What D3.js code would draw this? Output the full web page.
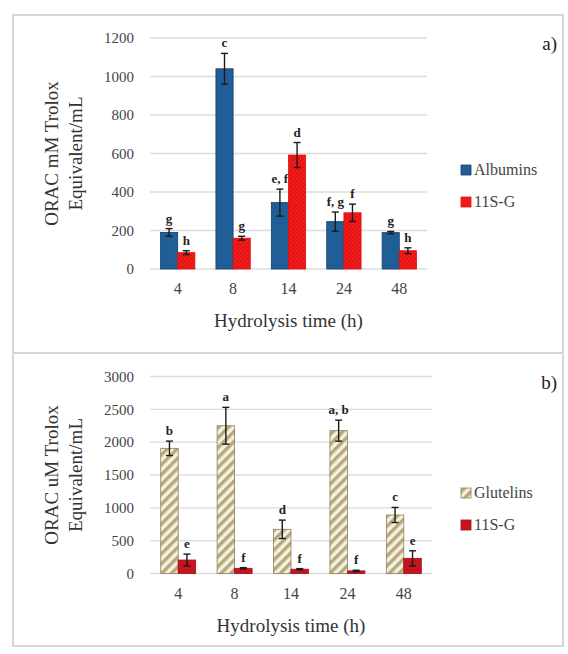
<!DOCTYPE html>
<html><head><meta charset="utf-8">
<script src="https://cdn.jsdelivr.net/npm/d3@7"></script>
<style>
html,body{margin:0;padding:0;background:#fff;}
svg, svg text{font-family:"Liberation Serif","Times New Roman",serif;}
</style></head>
<body><svg id="c" width="568" height="654"></svg>
<script>
// ---------- data ----------
const categories = ["4", "8", "14", "24", "48"];
// panel a)
const albumins = [190, 1040, 345, 246, 189];
const albuminsErr = [20, 80, 70, 50, 6];
const albuminsLetters = ["g", "c", "e, f", "f, g", "g"];
const s11gA = [85, 160, 592, 292, 95];
const s11gAErr = [10, 10, 65, 45, 15];
const s11gALetters = ["h", "g", "d", "f", "h"];
const yTicksA = [0, 200, 400, 600, 800, 1000, 1200];
// panel b)
const glutelins = [1906, 2250, 673, 2175, 891];
const glutelinsErr = [110, 280, 140, 160, 115];
const glutelinsLetters = ["b", "a", "d", "a, b", "c"];
const s11gB = [205, 79, 65, 40, 231];
const s11gBErr = [90, 10, 10, 10, 115];
const s11gBLetters = ["e", "f", "f", "f", "e"];
const yTicksB = [0, 500, 1000, 1500, 2000, 2500, 3000];

const FONT = "'Liberation Serif', 'Times New Roman', serif";
const svg = d3.select("#c");
const defs = svg.append("defs");

// hatch pattern for glutelins
const hp = defs.append("pattern").attr("id", "hatch").attr("patternUnits", "userSpaceOnUse")
  .attr("width", 7).attr("height", 7).attr("patternTransform", "rotate(45)");
hp.append("rect").attr("width", 7).attr("height", 7).attr("fill", "#f3f1e4");
hp.append("rect").attr("x", 0).attr("width", 3.4).attr("height", 7).attr("fill", "#b9a877");
// dotted red pattern for 11S-G (panel a)
const dp = defs.append("pattern").attr("id", "reddots").attr("patternUnits", "userSpaceOnUse")
  .attr("width", 4).attr("height", 4);
dp.append("rect").attr("width", 4).attr("height", 4).attr("fill", "#f41a1a");
dp.append("circle").attr("cx", 1).attr("cy", 1).attr("r", 0.8).attr("fill", "#c81010");
dp.append("circle").attr("cx", 3).attr("cy", 3).attr("r", 0.8).attr("fill", "#c81010");

// panel frames
svg.append("rect").attr("x", 13).attr("y", 15).attr("width", 550).attr("height", 338)
  .attr("fill", "none").attr("stroke", "#d6d6d6").attr("stroke-width", 2);
svg.append("rect").attr("x", 13).attr("y", 353).attr("width", 550).attr("height", 293)
  .attr("fill", "none").attr("stroke", "#d6d6d6").attr("stroke-width", 2);

function txt(sel) { return sel.style("font-family", FONT); }

function panel(o) {
  const g = svg.append("g");
  const x = d3.scaleBand().domain(categories).range([o.left, o.right]).paddingInner(0.38).paddingOuter(0.19);
  const sub = d3.scaleBand().domain([0, 1]).range([0, x.bandwidth()]);
  const y = d3.scaleLinear().domain([0, o.max]).range([o.y0, o.y1]);

  // gridlines
  g.append("g").selectAll("line").data(o.ticks).join("line")
    .attr("x1", o.left).attr("x2", o.right)
    .attr("y1", d => y(d)).attr("y2", d => y(d))
    .attr("stroke", "#dcdcdc").attr("stroke-width", 1.3);

  // y axis labels
  const ya = d3.axisLeft(y).tickValues(o.ticks).tickFormat(d3.format("d")).tickSize(0).tickPadding(0);
  const yg = g.append("g").attr("transform", `translate(${o.left - 16},0)`).call(ya);
  yg.attr("font-family", null);
  yg.select(".domain").remove();
  txt(yg.selectAll("text").attr("font-size", 15).attr("fill", "#444"));

  // x axis labels
  const xa = d3.axisBottom(x).tickSize(0).tickPadding(0);
  const xg = g.append("g").attr("transform", `translate(0,${o.y0 + 14})`).call(xa);
  xg.attr("font-family", null);
  xg.select(".domain").remove();
  txt(xg.selectAll("text").attr("font-size", 16).attr("fill", "#444"));

  // bars
  o.series.forEach((s, si) => {
    const gg = g.append("g");
    gg.selectAll("rect").data(s.values).join("rect")
      .attr("x", (d, i) => x(categories[i]) + sub(si))
      .attr("width", sub.bandwidth())
      .attr("y", d => y(d))
      .attr("height", d => y(0) - y(d))
      .attr("fill", s.fill).attr("stroke", s.stroke).attr("stroke-width", 0.8);
    // error bars
    const eg = gg.append("g").attr("stroke", "#1a1a1a").attr("stroke-width", 1.4);
    s.values.forEach((d, i) => {
      const cx = x(categories[i]) + sub(si) + sub.bandwidth() / 2;
      const e = s.err[i];
      eg.append("line").attr("x1", cx).attr("x2", cx).attr("y1", y(d - e)).attr("y2", y(d + e));
      eg.append("line").attr("x1", cx - 3.5).attr("x2", cx + 3.5).attr("y1", y(d + e)).attr("y2", y(d + e));
      eg.append("line").attr("x1", cx - 3.5).attr("x2", cx + 3.5).attr("y1", y(d - e)).attr("y2", y(d - e));
    });
    // letters
    txt(gg.selectAll("text.lt").data(s.letters).join("text").attr("class", "lt")
      .attr("x", (d, i) => x(categories[i]) + sub(si) + sub.bandwidth() / 2)
      .attr("y", (d, i) => y(s.values[i] + s.err[i]) - 6)
      .attr("text-anchor", "middle").attr("font-size", 13).attr("font-weight", "bold")
      .attr("fill", "#222").text(d => d));
  });

  // axis titles
  txt(g.append("text").attr("x", (o.left + o.right) / 2).attr("y", o.y0 + 58)
    .attr("text-anchor", "middle").attr("font-size", 19).attr("fill", "#333").text("Hydrolysis time (h)"));
  const cy = (o.y0 + o.y1) / 2;
  txt(g.append("text").attr("transform", `translate(58,${cy}) rotate(-90)`)
    .attr("text-anchor", "middle").attr("font-size", 19).attr("fill", "#333").text(o.ytitle));
  txt(g.append("text").attr("transform", `translate(82,${cy}) rotate(-90)`)
    .attr("text-anchor", "middle").attr("font-size", 19).attr("fill", "#333").text("Equivalent/mL"));

  // panel label
  txt(g.append("text").attr("x", 557).attr("y", o.y1 + 12).attr("text-anchor", "end")
    .attr("font-size", 19).attr("fill", "#222").text(o.tag));

  // legend
  o.series.forEach((s, si) => {
    const ly = o.legendY + si * 32;
    g.append("rect").attr("x", 461).attr("y", ly - 5).attr("width", 10).attr("height", 10)
      .attr("fill", s.legendFill || s.fill).attr("stroke", s.stroke).attr("stroke-width", 0.8);
    txt(g.append("text").attr("x", 474).attr("y", ly + 5).attr("font-size", 16).attr("fill", "#444").text(s.name));
  });
}

panel({
  left: 150, right: 427, y0: 269, y1: 38, max: 1200, ticks: yTicksA,
  ytitle: "ORAC mM Trolox", tag: "a)", legendY: 170,
  series: [
    { name: "Albumins", values: albumins, err: albuminsErr, letters: albuminsLetters, fill: "#1f5e96", stroke: "#163f66" },
    { name: "11S-G", values: s11gA, err: s11gAErr, letters: s11gALetters, fill: "url(#reddots)", legendFill: "#f01c1c", stroke: "#e01010" }
  ]
});
panel({
  left: 150, right: 432, y0: 573.5, y1: 376.5, max: 3000, ticks: yTicksB,
  ytitle: "ORAC uM Trolox", tag: "b)", legendY: 493,
  series: [
    { name: "Glutelins", values: glutelins, err: glutelinsErr, letters: glutelinsLetters, fill: "url(#hatch)", stroke: "#8a8060" },
    { name: "11S-G", values: s11gB, err: s11gBErr, letters: s11gBLetters, fill: "#c8141e", stroke: "#a00d15" }
  ]
});
</script></body></html>
